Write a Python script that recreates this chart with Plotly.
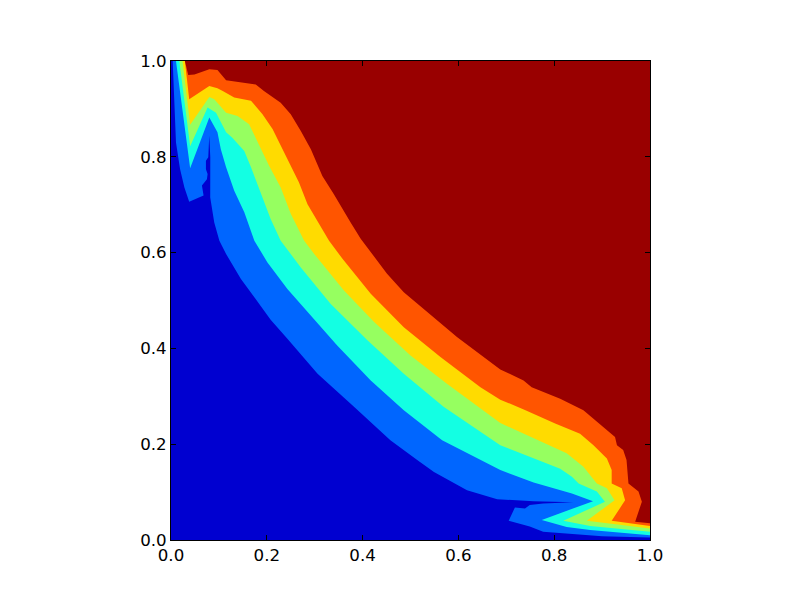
import plotly.graph_objects as go

# Contour level boundaries (x, y in data units).
level1_x = [0.0035, 0.0104, 0.019, 0.028, 0.038, 0.068, 0.0646, 0.075, 0.0764, 0.0729, 0.0729, 0.0778, 0.0799, 0.082, 0.0819, 0.0903, 0.101, 0.115, 0.146, 0.174, 0.208, 0.243, 0.306, 0.382, 0.458, 0.514, 0.549, 0.618, 0.681, 0.757, 0.840, 0.777, 0.749, 0.739, 0.718, 0.705, 0.749, 0.777, 0.840, 0.900, 1.0]
level1_y = [1.0, 0.83, 0.774, 0.736, 0.706, 0.719, 0.740, 0.753, 0.764, 0.774, 0.792, 0.799, 0.844, 0.799, 0.715, 0.663, 0.625, 0.597, 0.545, 0.507, 0.460, 0.420, 0.347, 0.278, 0.208, 0.167, 0.142, 0.104, 0.085, 0.081, 0.079, 0.076, 0.073, 0.066, 0.068, 0.040, 0.028, 0.017, 0.012, 0.008, 0.005]

level2_x = [0.0104, 0.040, 0.080, 0.097, 0.104, 0.115, 0.132, 0.153, 0.174, 0.201, 0.243, 0.290, 0.347, 0.417, 0.486, 0.566, 0.6875, 0.757, 0.8125, 0.837, 0.881, 0.774, 0.826, 0.875, 1.0]
level2_y = [1.0, 0.776, 0.882, 0.851, 0.816, 0.778, 0.729, 0.684, 0.625, 0.580, 0.524, 0.470, 0.406, 0.333, 0.271, 0.208, 0.146, 0.120, 0.104, 0.097, 0.081, 0.042, 0.027, 0.021, 0.010]

level3_x = [0.0174, 0.040, 0.0764, 0.094, 0.115, 0.128, 0.153, 0.167, 0.191, 0.208, 0.229, 0.271, 0.333, 0.410, 0.486, 0.569, 0.6875, 0.757, 0.8125, 0.837, 0.851, 0.889, 0.906, 0.819, 0.875, 1.0]
level3_y = [1.0, 0.822, 0.903, 0.892, 0.851, 0.840, 0.812, 0.778, 0.715, 0.670, 0.625, 0.569, 0.493, 0.417, 0.347, 0.278, 0.198, 0.170, 0.149, 0.132, 0.118, 0.101, 0.080, 0.040, 0.029, 0.017]

level4_x = [0.024, 0.040, 0.080, 0.0903, 0.115, 0.139, 0.163, 0.184, 0.205, 0.229, 0.250, 0.278, 0.299, 0.361, 0.424, 0.500, 0.576, 0.6875, 0.757, 0.826, 0.861, 0.889, 0.910, 0.926, 0.868, 1.0]
level4_y = [1.0, 0.867, 0.925, 0.920, 0.892, 0.885, 0.868, 0.823, 0.781, 0.736, 0.681, 0.625, 0.597, 0.521, 0.455, 0.385, 0.326, 0.244, 0.212, 0.181, 0.153, 0.118, 0.108, 0.083, 0.040, 0.024]

level5_x = [0.029, 0.038, 0.080, 0.097, 0.108, 0.132, 0.167, 0.191, 0.212, 0.240, 0.267, 0.285, 0.330, 0.358, 0.417, 0.486, 0.5625, 0.646, 0.6875, 0.740, 0.802, 0.854, 0.882, 0.910, 0.920, 0.920, 0.941, 0.948, 0.920, 1.0]
level5_y = [1.0, 0.920, 0.948, 0.943, 0.9375, 0.924, 0.917, 0.889, 0.858, 0.802, 0.747, 0.701, 0.625, 0.587, 0.514, 0.444, 0.382, 0.319, 0.293, 0.271, 0.243, 0.222, 0.198, 0.170, 0.146, 0.118, 0.108, 0.083, 0.040, 0.029]

level6_x = [0.029, 0.036, 0.049, 0.080, 0.097, 0.115, 0.177, 0.194, 0.229, 0.250, 0.271, 0.292, 0.316, 0.340, 0.375, 0.396, 0.451, 0.486, 0.535, 0.597, 0.6875, 0.736, 0.753, 0.8125, 0.861, 0.896, 0.927, 0.931, 0.944, 0.951, 0.955, 0.976, 0.983, 0.969, 1.0]
level6_y = [1.0, 0.971, 0.972, 0.983, 0.981, 0.960, 0.951, 0.9375, 0.913, 0.889, 0.854, 0.816, 0.760, 0.722, 0.663, 0.629, 0.556, 0.517, 0.476, 0.424, 0.356, 0.333, 0.319, 0.295, 0.271, 0.241, 0.215, 0.198, 0.188, 0.167, 0.118, 0.101, 0.080, 0.038, 0.035]

level_curves = [
    (level1_x, level1_y),
    (level2_x, level2_y),
    (level3_x, level3_y),
    (level4_x, level4_y),
    (level5_x, level5_y),
    (level6_x, level6_y),
]
base_color = "#0000d0"
band_colors = ["#0066ff", "#13ffe3", "#96ff60", "#ffdb00", "#ff5500", "#990000"]
tick_values = [0.0, 0.2, 0.4, 0.6, 0.8, 1.0]
tick_labels = ["0.0", "0.2", "0.4", "0.6", "0.8", "1.0"]

fig = go.Figure()
for (xs, ys), color in zip(level_curves, band_colors):
    fig.add_trace(go.Scatter(
        x=xs + [1.0],
        y=ys + [1.0],
        mode="lines",
        line=dict(width=0, color=color),
        fill="toself",
        fillcolor=color,
        hoverinfo="skip",
        showlegend=False,
    ))

axis = dict(
    range=[0, 1],
    tickmode="array",
    tickvals=tick_values,
    ticktext=tick_labels,
    ticks="inside",
    ticklen=5,
    tickwidth=1,
    tickcolor="black",
    showline=True,
    linecolor="black",
    linewidth=1,
    mirror="allticks",
    showgrid=False,
    zeroline=False,
    tickfont=dict(family="DejaVu Sans", size=16.67, color="black"),
)
fig.update_layout(
    width=792,
    height=592,
    autosize=False,
    margin=dict(l=163, r=150, t=53, b=60, pad=0),
    paper_bgcolor="white",
    plot_bgcolor=base_color,
    xaxis=axis,
    yaxis=axis,
    showlegend=False,
)
fig.write_html("out.html", config=dict(displayModeBar=False))
